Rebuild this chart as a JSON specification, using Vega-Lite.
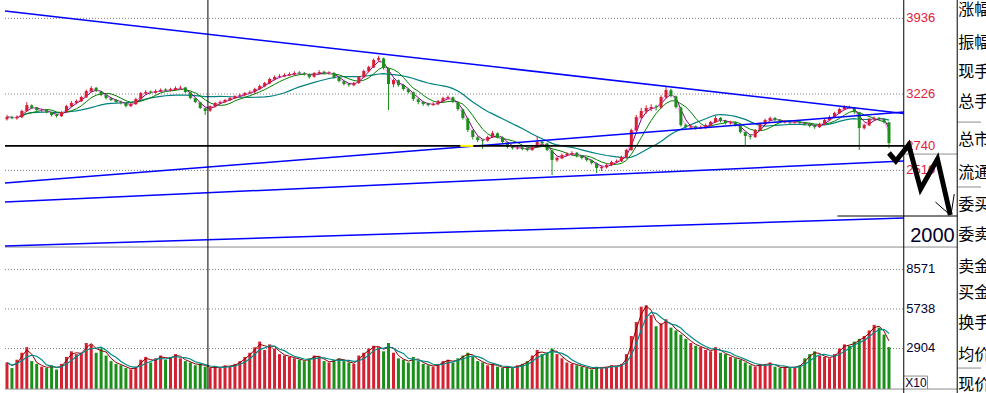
{
"$schema":"https://vega.github.io/schema/vega-lite/v6.json",
"width":986,"height":393,
"autosize":{"type":"none"},
"padding":0,
"background":"white",
"config":{"view":{"stroke":null}},
"datasets":{
"k":[
{"d":0,"o":2990,"h":3030,"l":2978,"c":3010,"v":1900},
{"d":1,"o":3012,"h":3022,"l":2990,"c":3001,"v":1500},
{"d":2,"o":2998,"h":3025,"l":2985,"c":3010,"v":2100},
{"d":3,"o":3008,"h":3080,"l":3000,"c":3067,"v":2600},
{"d":4,"o":3065,"h":3150,"l":3058,"c":3123,"v":3000},
{"d":5,"o":3120,"h":3130,"l":3085,"c":3095,"v":2000},
{"d":6,"o":3098,"h":3105,"l":3065,"c":3076,"v":1800},
{"d":7,"o":3070,"h":3090,"l":3055,"c":3072,"v":1600},
{"d":8,"o":3075,"h":3082,"l":3045,"c":3057,"v":1500},
{"d":9,"o":3055,"h":3060,"l":3015,"c":3029,"v":1700},
{"d":10,"o":3030,"h":3040,"l":3005,"c":3020,"v":1400},
{"d":11,"o":3018,"h":3065,"l":3012,"c":3057,"v":1800},
{"d":12,"o":3055,"h":3125,"l":3050,"c":3113,"v":2300},
{"d":13,"o":3110,"h":3160,"l":3102,"c":3142,"v":2700},
{"d":14,"o":3145,"h":3175,"l":3130,"c":3160,"v":2500},
{"d":15,"o":3158,"h":3210,"l":3150,"c":3198,"v":2600},
{"d":16,"o":3195,"h":3268,"l":3190,"c":3254,"v":3300},
{"d":17,"o":3250,"h":3300,"l":3240,"c":3282,"v":3200},
{"d":18,"o":3285,"h":3292,"l":3245,"c":3254,"v":2600},
{"d":19,"o":3250,"h":3258,"l":3205,"c":3217,"v":2900},
{"d":20,"o":3215,"h":3222,"l":3175,"c":3188,"v":2400},
{"d":21,"o":3185,"h":3195,"l":3160,"c":3170,"v":2000},
{"d":22,"o":3172,"h":3180,"l":3140,"c":3151,"v":1800},
{"d":23,"o":3150,"h":3165,"l":3128,"c":3142,"v":1700},
{"d":24,"o":3140,"h":3148,"l":3100,"c":3113,"v":1500},
{"d":25,"o":3112,"h":3142,"l":3105,"c":3132,"v":1400},
{"d":26,"o":3130,"h":3190,"l":3125,"c":3179,"v":1600},
{"d":27,"o":3178,"h":3245,"l":3172,"c":3235,"v":2100},
{"d":28,"o":3232,"h":3262,"l":3220,"c":3245,"v":2300},
{"d":29,"o":3250,"h":3258,"l":3228,"c":3240,"v":1900},
{"d":30,"o":3238,"h":3270,"l":3230,"c":3254,"v":2200},
{"d":31,"o":3250,"h":3278,"l":3245,"c":3264,"v":2400},
{"d":32,"o":3268,"h":3280,"l":3248,"c":3260,"v":2100},
{"d":33,"o":3258,"h":3285,"l":3250,"c":3268,"v":2300},
{"d":34,"o":3265,"h":3298,"l":3258,"c":3282,"v":2500},
{"d":35,"o":3280,"h":3305,"l":3270,"c":3285,"v":2200},
{"d":36,"o":3288,"h":3292,"l":3235,"c":3245,"v":2000},
{"d":37,"o":3242,"h":3248,"l":3180,"c":3188,"v":1900},
{"d":38,"o":3185,"h":3192,"l":3140,"c":3151,"v":1700},
{"d":39,"o":3148,"h":3155,"l":3085,"c":3095,"v":1800},
{"d":40,"o":3092,"h":3100,"l":3030,"c":3067,"v":1600},
{"d":41,"o":3070,"h":3120,"l":3060,"c":3113,"v":1500},
{"d":42,"o":3110,"h":3150,"l":3100,"c":3142,"v":1600},
{"d":43,"o":3140,"h":3165,"l":3130,"c":3151,"v":1500},
{"d":44,"o":3150,"h":3180,"l":3140,"c":3170,"v":1700},
{"d":45,"o":3168,"h":3200,"l":3160,"c":3188,"v":1600},
{"d":46,"o":3185,"h":3215,"l":3178,"c":3207,"v":1800},
{"d":47,"o":3210,"h":3230,"l":3195,"c":3217,"v":2000},
{"d":48,"o":3215,"h":3245,"l":3205,"c":3235,"v":2300},
{"d":49,"o":3238,"h":3260,"l":3225,"c":3245,"v":2600},
{"d":50,"o":3242,"h":3285,"l":3235,"c":3273,"v":3000},
{"d":51,"o":3270,"h":3315,"l":3262,"c":3301,"v":3400},
{"d":52,"o":3298,"h":3340,"l":3290,"c":3329,"v":2800},
{"d":53,"o":3325,"h":3380,"l":3318,"c":3367,"v":3200},
{"d":54,"o":3362,"h":3400,"l":3355,"c":3385,"v":2900},
{"d":55,"o":3388,"h":3412,"l":3375,"c":3395,"v":2500},
{"d":56,"o":3392,"h":3420,"l":3385,"c":3404,"v":2400},
{"d":57,"o":3402,"h":3430,"l":3395,"c":3414,"v":2300},
{"d":58,"o":3410,"h":3440,"l":3400,"c":3423,"v":2200},
{"d":59,"o":3428,"h":3440,"l":3405,"c":3420,"v":2100},
{"d":60,"o":3422,"h":3432,"l":3398,"c":3414,"v":2000},
{"d":61,"o":3412,"h":3418,"l":3370,"c":3385,"v":2200},
{"d":62,"o":3388,"h":3432,"l":3380,"c":3423,"v":2400},
{"d":63,"o":3420,"h":3450,"l":3412,"c":3432,"v":2300},
{"d":64,"o":3435,"h":3445,"l":3410,"c":3423,"v":2000},
{"d":65,"o":3420,"h":3440,"l":3408,"c":3426,"v":1900},
{"d":66,"o":3425,"h":3430,"l":3372,"c":3385,"v":2100},
{"d":67,"o":3382,"h":3390,"l":3335,"c":3348,"v":2200},
{"d":68,"o":3345,"h":3352,"l":3305,"c":3320,"v":2000},
{"d":69,"o":3318,"h":3328,"l":3295,"c":3310,"v":1900},
{"d":70,"o":3308,"h":3340,"l":3300,"c":3329,"v":1800},
{"d":71,"o":3328,"h":3395,"l":3322,"c":3385,"v":2400},
{"d":72,"o":3382,"h":3455,"l":3375,"c":3442,"v":2600},
{"d":73,"o":3440,"h":3492,"l":3432,"c":3479,"v":2900},
{"d":74,"o":3475,"h":3560,"l":3470,"c":3545,"v":3100},
{"d":75,"o":3548,"h":3585,"l":3530,"c":3564,"v":3000},
{"d":76,"o":3560,"h":3568,"l":3455,"c":3470,"v":2700},
{"d":77,"o":3465,"h":3472,"l":3076,"c":3320,"v":3300},
{"d":78,"o":3318,"h":3370,"l":3290,"c":3357,"v":2600},
{"d":79,"o":3355,"h":3362,"l":3295,"c":3310,"v":2200},
{"d":80,"o":3312,"h":3320,"l":3258,"c":3273,"v":2100},
{"d":81,"o":3270,"h":3282,"l":3230,"c":3245,"v":1900},
{"d":82,"o":3242,"h":3250,"l":3160,"c":3179,"v":2300},
{"d":83,"o":3175,"h":3188,"l":3130,"c":3151,"v":2000},
{"d":84,"o":3150,"h":3160,"l":3115,"c":3132,"v":1800},
{"d":85,"o":3135,"h":3145,"l":3108,"c":3123,"v":1700},
{"d":86,"o":3122,"h":3150,"l":3115,"c":3132,"v":1600},
{"d":87,"o":3130,"h":3172,"l":3122,"c":3160,"v":1800},
{"d":88,"o":3158,"h":3200,"l":3150,"c":3188,"v":2000},
{"d":89,"o":3185,"h":3212,"l":3175,"c":3198,"v":2100},
{"d":90,"o":3195,"h":3202,"l":3140,"c":3151,"v":1900},
{"d":91,"o":3148,"h":3155,"l":3070,"c":3085,"v":2200},
{"d":92,"o":3082,"h":3090,"l":2985,"c":3001,"v":2400},
{"d":93,"o":2998,"h":3005,"l":2870,"c":2888,"v":2600},
{"d":94,"o":2885,"h":2892,"l":2800,"c":2823,"v":2300},
{"d":95,"o":2820,"h":2830,"l":2775,"c":2795,"v":2000},
{"d":96,"o":2792,"h":2805,"l":2710,"c":2785,"v":1900},
{"d":97,"o":2788,"h":2835,"l":2780,"c":2823,"v":1700},
{"d":98,"o":2820,"h":2880,"l":2815,"c":2860,"v":1800},
{"d":99,"o":2858,"h":2865,"l":2810,"c":2823,"v":1600},
{"d":100,"o":2820,"h":2828,"l":2760,"c":2776,"v":1500},
{"d":101,"o":2772,"h":2780,"l":2715,"c":2729,"v":1600},
{"d":102,"o":2730,"h":2742,"l":2705,"c":2719,"v":1500},
{"d":103,"o":2716,"h":2738,"l":2705,"c":2722,"v":1700},
{"d":104,"o":2725,"h":2735,"l":2698,"c":2710,"v":1800},
{"d":105,"o":2712,"h":2720,"l":2688,"c":2701,"v":2000},
{"d":106,"o":2700,"h":2740,"l":2695,"c":2729,"v":2400},
{"d":107,"o":2728,"h":2830,"l":2722,"c":2776,"v":2800},
{"d":108,"o":2778,"h":2790,"l":2750,"c":2766,"v":2500},
{"d":109,"o":2762,"h":2770,"l":2690,"c":2701,"v":2600},
{"d":110,"o":2698,"h":2705,"l":2466,"c":2607,"v":2900},
{"d":111,"o":2605,"h":2640,"l":2590,"c":2626,"v":2500},
{"d":112,"o":2622,"h":2668,"l":2615,"c":2654,"v":2200},
{"d":113,"o":2650,"h":2680,"l":2640,"c":2663,"v":1900},
{"d":114,"o":2660,"h":2690,"l":2650,"c":2673,"v":1800},
{"d":115,"o":2675,"h":2682,"l":2630,"c":2645,"v":1700},
{"d":116,"o":2648,"h":2655,"l":2612,"c":2626,"v":1600},
{"d":117,"o":2628,"h":2635,"l":2592,"c":2607,"v":1500},
{"d":118,"o":2605,"h":2612,"l":2565,"c":2579,"v":1400},
{"d":119,"o":2578,"h":2585,"l":2485,"c":2532,"v":1600},
{"d":120,"o":2530,"h":2555,"l":2505,"c":2541,"v":1500},
{"d":121,"o":2538,"h":2572,"l":2528,"c":2560,"v":1600},
{"d":122,"o":2558,"h":2600,"l":2550,"c":2588,"v":1700},
{"d":123,"o":2590,"h":2612,"l":2578,"c":2598,"v":1600},
{"d":124,"o":2595,"h":2648,"l":2588,"c":2635,"v":1800},
{"d":125,"o":2632,"h":2712,"l":2625,"c":2701,"v":2500},
{"d":126,"o":2700,"h":2900,"l":2695,"c":2888,"v":3800},
{"d":127,"o":2885,"h":3030,"l":2878,"c":3010,"v":4800},
{"d":128,"o":3005,"h":3095,"l":2990,"c":3067,"v":5900},
{"d":129,"o":3062,"h":3120,"l":3040,"c":3095,"v":6000},
{"d":130,"o":3090,"h":3130,"l":3065,"c":3104,"v":5300},
{"d":131,"o":3108,"h":3125,"l":3070,"c":3100,"v":4500},
{"d":132,"o":3098,"h":3215,"l":3090,"c":3198,"v":4700},
{"d":133,"o":3195,"h":3292,"l":3180,"c":3264,"v":5000},
{"d":134,"o":3262,"h":3275,"l":3195,"c":3207,"v":4400},
{"d":135,"o":3205,"h":3212,"l":3090,"c":3104,"v":4200},
{"d":136,"o":3100,"h":3108,"l":2920,"c":2935,"v":3900},
{"d":137,"o":2938,"h":2950,"l":2900,"c":2916,"v":3600},
{"d":138,"o":2912,"h":2940,"l":2902,"c":2920,"v":3300},
{"d":139,"o":2922,"h":2932,"l":2890,"c":2907,"v":3100},
{"d":140,"o":2905,"h":2930,"l":2895,"c":2910,"v":3000},
{"d":141,"o":2908,"h":2950,"l":2900,"c":2935,"v":2800},
{"d":142,"o":2932,"h":2975,"l":2925,"c":2963,"v":2700},
{"d":143,"o":2960,"h":3020,"l":2955,"c":3001,"v":3000},
{"d":144,"o":3002,"h":3010,"l":2960,"c":2973,"v":2600},
{"d":145,"o":2975,"h":2985,"l":2940,"c":2954,"v":2500},
{"d":146,"o":2950,"h":2975,"l":2940,"c":2958,"v":2300},
{"d":147,"o":2960,"h":2968,"l":2922,"c":2935,"v":2200},
{"d":148,"o":2932,"h":2940,"l":2855,"c":2870,"v":2100},
{"d":149,"o":2868,"h":2875,"l":2748,"c":2832,"v":1900},
{"d":150,"o":2830,"h":2850,"l":2800,"c":2823,"v":1700},
{"d":151,"o":2822,"h":2898,"l":2815,"c":2888,"v":1600},
{"d":152,"o":2885,"h":2958,"l":2880,"c":2945,"v":1800},
{"d":153,"o":2942,"h":2995,"l":2935,"c":2982,"v":1700},
{"d":154,"o":2980,"h":3015,"l":2972,"c":3001,"v":1900},
{"d":155,"o":3002,"h":3010,"l":2970,"c":2982,"v":1600},
{"d":156,"o":2985,"h":2992,"l":2950,"c":2963,"v":1500},
{"d":157,"o":2960,"h":2980,"l":2950,"c":2966,"v":1600},
{"d":158,"o":2968,"h":2978,"l":2945,"c":2960,"v":1500},
{"d":159,"o":2958,"h":2978,"l":2948,"c":2963,"v":1600},
{"d":160,"o":2965,"h":2972,"l":2940,"c":2954,"v":1700},
{"d":161,"o":2955,"h":2965,"l":2930,"c":2945,"v":2200},
{"d":162,"o":2948,"h":2955,"l":2912,"c":2926,"v":2500},
{"d":163,"o":2925,"h":2935,"l":2900,"c":2916,"v":2700},
{"d":164,"o":2915,"h":2958,"l":2908,"c":2945,"v":2400},
{"d":165,"o":2942,"h":2995,"l":2935,"c":2982,"v":2300},
{"d":166,"o":2980,"h":3025,"l":2972,"c":3010,"v":2200},
{"d":167,"o":3008,"h":3060,"l":3000,"c":3048,"v":2500},
{"d":168,"o":3045,"h":3098,"l":3040,"c":3085,"v":2900},
{"d":169,"o":3082,"h":3120,"l":3075,"c":3104,"v":3200},
{"d":170,"o":3105,"h":3118,"l":3085,"c":3100,"v":3100},
{"d":171,"o":3098,"h":3105,"l":3040,"c":3057,"v":3400},
{"d":172,"o":3055,"h":3060,"l":2701,"c":2907,"v":3600},
{"d":173,"o":2905,"h":2948,"l":2895,"c":2935,"v":3800},
{"d":174,"o":2932,"h":3005,"l":2925,"c":2992,"v":4200},
{"d":175,"o":2990,"h":3015,"l":2980,"c":3001,"v":4600},
{"d":176,"o":3003,"h":3012,"l":2978,"c":2992,"v":4400},
{"d":177,"o":2990,"h":2998,"l":2950,"c":2963,"v":3900},
{"d":178,"o":2960,"h":2965,"l":2719,"c":2766,"v":3000}
],
"blue":[
{"x1":-0.4,"p1":4004,"x2":180.98,"p2":3044},
{"x1":-0.4,"p1":2391,"x2":180.98,"p2":3057},
{"x1":-0.4,"p1":2213,"x2":180.98,"p2":2598},
{"x1":-0.4,"p1":1800,"x2":180.98,"p2":2063}
],
"black":[
{"x1":180.98,"p1":4108,"x2":180.98,"p2":422},
{"x1":191.77,"p1":4108,"x2":191.77,"p2":422},
{"x1":40.55,"p1":4108,"x2":40.55,"p2":459},
{"x1":167.6,"p1":2082,"x2":191.77,"p2":2082},
{"x1":187.38,"p1":2213,"x2":190.37,"p2":2091},
{"x1":191.17,"p1":2288,"x2":190.57,"p2":2110}
],
"gray":[
{"x1":-0.4,"p1":1791,"x2":191.77,"p2":1791},
{"x1":-0.4,"p1":459,"x2":191.77,"p2":459},
{"x1":180.98,"p1":2663,"x2":191.77,"p2":2663},
{"x1":191.77,"p1":2963,"x2":196.57,"p2":2963},
{"x1":191.77,"p1":2354,"x2":196.57,"p2":2354},
{"x1":191.77,"p1":656,"x2":196.57,"p2":656},
{"x1":180.98,"p1":581,"x2":185.78,"p2":581},
{"x1":185.78,"p1":581,"x2":185.78,"p2":459}
],
"level":[{"x1":-0.4,"p1":2740,"x2":181.18,"p2":2740}],
"yellow":[{"x1":91.49,"p1":2740,"x2":94.1,"p2":2740}],
"pdot":[{"p":3936},{"p":3226},{"p":2510}],
"vdot":[{"v":8571},{"v":5738},{"v":2904}],
"zig":[
{"k":0,"x":177.99,"p":2673},
{"k":1,"x":179.38,"p":2598},
{"k":2,"x":181.98,"p":2748},
{"k":3,"x":184.38,"p":2335},
{"k":4,"x":187.78,"p":2616},
{"k":5,"x":190.37,"p":2091}
],
"plab":[{"p":3936,"t":"3936"},{"p":3226,"t":"3226"},{"p":2740,"t":"2740"},{"p":2510,"t":"2510"}],
"vlab":[{"v":8571,"t":"8571"},{"v":5738,"t":"5738"},{"v":2904,"t":"2904"}],
"side":[
{"p":4014,"t":"涨幅"},{"p":3704,"t":"振幅"},{"p":3432,"t":"现手"},{"p":3151,"t":"总手"},
{"p":2795,"t":"总市"},{"p":2485,"t":"流通"},{"p":2185,"t":"委买"},{"p":1903,"t":"委卖"},
{"p":1603,"t":"卖金"},{"p":1359,"t":"买金"},{"p":1078,"t":"换手"},{"p":778,"t":"均价"},{"p":496,"t":"现价"}
]
},
"resolve":{"scale":{"y":"independent"}},
"layer":[
{"data":{"name":"pdot"},"mark":{"type":"rule","color":"#808080","strokeDash":[1,2],"strokeWidth":1},
 "encoding":{"x":{"datum":-0.4,"type":"quantitative","scale":{"domain":[-0.4,196.57],"nice":false,"zero":false},"axis":null},
  "x2":{"datum":180.98},
  "y":{"field":"p","type":"quantitative","scale":{"domain":[422,4108],"nice":false,"zero":false},"axis":null}}},
{"data":{"name":"vdot"},"mark":{"type":"rule","color":"#808080","strokeDash":[1,2],"strokeWidth":1},
 "encoding":{"x":{"datum":-0.4,"type":"quantitative","scale":{"domain":[-0.4,196.57],"nice":false,"zero":false},"axis":null},
  "x2":{"datum":180.98},
  "y":{"field":"v","type":"quantitative","scale":{"domain":[-287,27891],"nice":false,"zero":false},"axis":null}}},
{"data":{"name":"k"},"mark":{"type":"bar","width":3},
 "encoding":{"x":{"field":"d","type":"quantitative","scale":{"domain":[-0.4,196.57],"nice":false,"zero":false},"axis":null},
  "y":{"field":"v","type":"quantitative","scale":{"domain":[-287,27891],"nice":false,"zero":false},"axis":null},
  "y2":{"datum":0},
  "color":{"condition":{"test":"datum.c >= datum.o","value":"#d42030"},"value":"#1a901a"}}},
{"data":{"name":"k"},"transform":[{"window":[{"op":"mean","field":"v","as":"m"}],"frame":[-1,0],"sort":[{"field":"d"}]}],
 "mark":{"type":"line","color":"#8b0000","strokeWidth":1},
 "encoding":{"x":{"field":"d","type":"quantitative","scale":{"domain":[-0.4,196.57],"nice":false,"zero":false},"axis":null},
  "y":{"field":"m","type":"quantitative","scale":{"domain":[-287,27891],"nice":false,"zero":false},"axis":null}}},
{"data":{"name":"k"},"transform":[{"window":[{"op":"mean","field":"v","as":"m"}],"frame":[-3,0],"sort":[{"field":"d"}]}],
 "mark":{"type":"line","color":"#008b8b","strokeWidth":1.2},
 "encoding":{"x":{"field":"d","type":"quantitative","scale":{"domain":[-0.4,196.57],"nice":false,"zero":false},"axis":null},
  "y":{"field":"m","type":"quantitative","scale":{"domain":[-287,27891],"nice":false,"zero":false},"axis":null}}},
{"data":{"name":"k"},"transform":[{"window":[{"op":"mean","field":"c","as":"m"}],"frame":[-17,0],"sort":[{"field":"d"}]}],
 "mark":{"type":"line","color":"#008080","strokeWidth":1.2},
 "encoding":{"x":{"field":"d","type":"quantitative","scale":{"domain":[-0.4,196.57],"nice":false,"zero":false},"axis":null},
  "y":{"field":"m","type":"quantitative","scale":{"domain":[422,4108],"nice":false,"zero":false},"axis":null}}},
{"data":{"name":"k"},"transform":[{"window":[{"op":"mean","field":"c","as":"m"}],"frame":[-5,0],"sort":[{"field":"d"}]}],
 "mark":{"type":"line","color":"#008000","strokeWidth":1},
 "encoding":{"x":{"field":"d","type":"quantitative","scale":{"domain":[-0.4,196.57],"nice":false,"zero":false},"axis":null},
  "y":{"field":"m","type":"quantitative","scale":{"domain":[422,4108],"nice":false,"zero":false},"axis":null}}},
{"data":{"name":"k"},"transform":[{"window":[{"op":"mean","field":"c","as":"m"}],"frame":[-2,0],"sort":[{"field":"d"}]}],
 "mark":{"type":"line","color":"#800080","strokeWidth":1},
 "encoding":{"x":{"field":"d","type":"quantitative","scale":{"domain":[-0.4,196.57],"nice":false,"zero":false},"axis":null},
  "y":{"field":"m","type":"quantitative","scale":{"domain":[422,4108],"nice":false,"zero":false},"axis":null}}},
{"data":{"name":"k"},"transform":[{"window":[{"op":"mean","field":"c","as":"m"}],"frame":[-1,0],"sort":[{"field":"d"}]}],
 "mark":{"type":"line","color":"#ff99ff","strokeWidth":1},
 "encoding":{"x":{"field":"d","type":"quantitative","scale":{"domain":[-0.4,196.57],"nice":false,"zero":false},"axis":null},
  "y":{"field":"m","type":"quantitative","scale":{"domain":[422,4108],"nice":false,"zero":false},"axis":null}}},
{"data":{"name":"k"},"mark":{"type":"rule","strokeWidth":1},
 "encoding":{"x":{"field":"d","type":"quantitative","scale":{"domain":[-0.4,196.57],"nice":false,"zero":false},"axis":null},
  "y":{"field":"l","type":"quantitative","scale":{"domain":[422,4108],"nice":false,"zero":false},"axis":null},
  "y2":{"field":"h"},
  "color":{"condition":{"test":"datum.c >= datum.o","value":"#d42030"},"value":"#1a901a"}}},
{"data":{"name":"k"},"mark":{"type":"bar","width":3},
 "encoding":{"x":{"field":"d","type":"quantitative","scale":{"domain":[-0.4,196.57],"nice":false,"zero":false},"axis":null},
  "y":{"field":"o","type":"quantitative","scale":{"domain":[422,4108],"nice":false,"zero":false},"axis":null},
  "y2":{"field":"c"},
  "color":{"condition":{"test":"datum.c >= datum.o","value":"#d42030"},"value":"#1a901a"}}},
{"data":{"name":"gray"},"mark":{"type":"rule","color":"#8c8c8c","strokeWidth":1},
 "encoding":{"x":{"field":"x1","type":"quantitative","scale":{"domain":[-0.4,196.57],"nice":false,"zero":false},"axis":null},
  "x2":{"field":"x2"},
  "y":{"field":"p1","type":"quantitative","scale":{"domain":[422,4108],"nice":false,"zero":false},"axis":null},
  "y2":{"field":"p2"}}},
{"data":{"name":"blue"},"mark":{"type":"rule","color":"#0000ff","strokeWidth":1.5},
 "encoding":{"x":{"field":"x1","type":"quantitative","scale":{"domain":[-0.4,196.57],"nice":false,"zero":false},"axis":null},
  "x2":{"field":"x2"},
  "y":{"field":"p1","type":"quantitative","scale":{"domain":[422,4108],"nice":false,"zero":false},"axis":null},
  "y2":{"field":"p2"}}},
{"data":{"name":"level"},"mark":{"type":"rule","color":"#000000","strokeWidth":1.6},
 "encoding":{"x":{"field":"x1","type":"quantitative","scale":{"domain":[-0.4,196.57],"nice":false,"zero":false},"axis":null},
  "x2":{"field":"x2"},
  "y":{"field":"p1","type":"quantitative","scale":{"domain":[422,4108],"nice":false,"zero":false},"axis":null},
  "y2":{"field":"p2"}}},
{"data":{"name":"yellow"},"mark":{"type":"rule","color":"#ffff00","strokeWidth":2},
 "encoding":{"x":{"field":"x1","type":"quantitative","scale":{"domain":[-0.4,196.57],"nice":false,"zero":false},"axis":null},
  "x2":{"field":"x2"},
  "y":{"field":"p1","type":"quantitative","scale":{"domain":[422,4108],"nice":false,"zero":false},"axis":null},
  "y2":{"field":"p2"}}},
{"data":{"name":"black"},"mark":{"type":"rule","color":"#000000","strokeWidth":1},
 "encoding":{"x":{"field":"x1","type":"quantitative","scale":{"domain":[-0.4,196.57],"nice":false,"zero":false},"axis":null},
  "x2":{"field":"x2"},
  "y":{"field":"p1","type":"quantitative","scale":{"domain":[422,4108],"nice":false,"zero":false},"axis":null},
  "y2":{"field":"p2"}}},
{"data":{"name":"plab"},"mark":{"type":"text","align":"left","baseline":"middle","font":"Liberation Sans","fontSize":13,"color":"#e0203c"},
 "encoding":{"x":{"datum":181.5,"type":"quantitative","scale":{"domain":[-0.4,196.57],"nice":false,"zero":false},"axis":null},
  "y":{"field":"p","type":"quantitative","scale":{"domain":[422,4108],"nice":false,"zero":false},"axis":null},
  "text":{"field":"t"}}},
{"data":{"name":"vlab"},"mark":{"type":"text","align":"left","baseline":"middle","font":"Liberation Sans","fontSize":13,"color":"#000033"},
 "encoding":{"x":{"datum":181.5,"type":"quantitative","scale":{"domain":[-0.4,196.57],"nice":false,"zero":false},"axis":null},
  "y":{"field":"v","type":"quantitative","scale":{"domain":[-287,27891],"nice":false,"zero":false},"axis":null},
  "text":{"field":"t"}}},
{"data":{"values":[{"p":1894,"t":"2000"}]},"mark":{"type":"text","align":"center","baseline":"middle","font":"Liberation Sans","fontSize":20,"color":"#00002a"},
 "encoding":{"x":{"datum":186.78,"type":"quantitative","scale":{"domain":[-0.4,196.57],"nice":false,"zero":false},"axis":null},
  "y":{"field":"p","type":"quantitative","scale":{"domain":[422,4108],"nice":false,"zero":false},"axis":null},
  "text":{"field":"t"}}},
{"data":{"values":[{"p":515,"t":"X10"}]},"mark":{"type":"text","align":"left","baseline":"middle","font":"Liberation Sans","fontSize":12,"color":"#000033"},
 "encoding":{"x":{"datum":181.3,"type":"quantitative","scale":{"domain":[-0.4,196.57],"nice":false,"zero":false},"axis":null},
  "y":{"field":"p","type":"quantitative","scale":{"domain":[422,4108],"nice":false,"zero":false},"axis":null},
  "text":{"field":"t"}}},
{"data":{"name":"side"},"mark":{"type":"text","align":"left","baseline":"middle","font":"Noto Sans CJK SC","fontSize":16,"color":"#000000","clip":true},
 "encoding":{"x":{"datum":191.97,"type":"quantitative","scale":{"domain":[-0.4,196.57],"nice":false,"zero":false},"axis":null},
  "y":{"field":"p","type":"quantitative","scale":{"domain":[422,4108],"nice":false,"zero":false},"axis":null},
  "text":{"field":"t"}}},
{"data":{"name":"zig"},"mark":{"type":"line","color":"#000000","strokeWidth":5,"strokeJoin":"miter","strokeCap":"butt"},
 "encoding":{"x":{"field":"x","type":"quantitative","scale":{"domain":[-0.4,196.57],"nice":false,"zero":false},"axis":null},
  "y":{"field":"p","type":"quantitative","scale":{"domain":[422,4108],"nice":false,"zero":false},"axis":null},
  "order":{"field":"k"}}}
]
}
